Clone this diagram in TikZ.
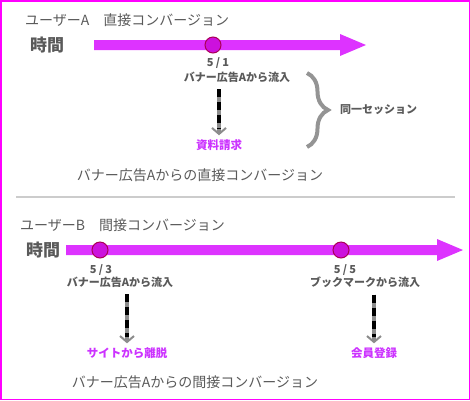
\documentclass[tikz,border=0pt]{standalone}
\usepackage{fontspec}
\setmainfont{Noto Sans CJK JP}
\usetikzlibrary{decorations.pathreplacing,arrows.meta}

\definecolor{lineviolet}{HTML}{DD33FF}
\definecolor{dotviolet}{HTML}{CC11DD}
\definecolor{dotedge}{HTML}{AA0055}
\definecolor{framepink}{HTML}{FF00FF}
\definecolor{textgray}{HTML}{5A5A5A}
\definecolor{resultviolet}{HTML}{CC33FF}

\begin{document}
\begin{tikzpicture}[x=1pt, y=-1pt,
	title/.style={text=textgray, font=\fontsize{14}{16}\selectfont, inner sep=0pt},
	timeword/.style={text=textgray, font=\fontsize{17}{19}\bfseries\selectfont, inner sep=0pt},
	datelabel/.style={text=textgray, font=\fontsize{11}{13}\bfseries\addfontfeature{LetterSpace=20}\selectfont, inner sep=0pt},
	srclabel/.style={text=textgray, font=\fontsize{11}{13}\bfseries\selectfont, inner sep=0pt},
	result/.style={text=resultviolet, font=\fontsize{11.5}{13}\bfseries\selectfont, inner sep=0pt},
	dot/.style={circle, fill=dotviolet, draw=dotedge, line width=1pt, minimum size=16pt, inner sep=0pt},
	flow/.style={line width=4pt, draw=black!45, shorten <=7pt, shorten >=4pt,
		-{Straight Barb[length=6pt, width=14pt, line width=2pt]},
		postaction={draw=black, dash pattern=on 8pt off 5pt, line width=4pt, shorten <=7pt, shorten >=10pt, -}}
	]

	% frame
	\useasboundingbox (0,0) rectangle (470,400);
	\draw[framepink, line width=1.5pt] (0.75,0.75) rectangle (469.25,399.25);

	% user A
	\node[title, anchor=west] (titleA) at (25,20) {ユーザーA　直接コンバージョン};
	\node[timeword, anchor=west] (timeA) at (30,45) {時間};
	\fill[lineviolet] (94,40) -- (340,40) -- (340,34) -- (366,45)
		-- (340,56) -- (340,50) -- (94,50) -- cycle;
	\node[dot] (dotA) at (213,45) {};
	\node[datelabel] (dateA) at (218,63) {5/1};
	\node[srclabel] (srcA) at (237,77) {バナー広告Aから流入};
	\node[result] (resA) at (219,145) {資料請求};
	\draw[flow] (srcA.south -| resA.north) -- (resA.north);

	% session brace
	\draw[draw=black!42, line width=4pt, decorate,
		decoration={brace, amplitude=21pt}] (307,73) -- (307,147);
	\node[srclabel, anchor=west] (sessA) at (340,110) {同一セッション};

	\node[title] (sumA) at (200,175) {バナー広告Aからの直接コンバージョン};

	% separator
	\draw[black!20, line width=2pt] (16,197) -- (455,197);

	% user B
	\node[title, anchor=west] (titleB) at (20,225) {ユーザーB　間接コンバージョン};
	\node[timeword, anchor=west] (timeB) at (26,250) {時間};
	\fill[lineviolet] (66,245) -- (437,245) -- (437,239) -- (463,250)
		-- (437,261) -- (437,255) -- (66,255) -- cycle;
	\node[dot] (dotB) at (100,250) {};
	\node[dot] (dotC) at (341,250) {};

	\node[datelabel] (dateB) at (101,270) {5/3};
	\node[srclabel] (srcB) at (120,282) {バナー広告Aから流入};
	\node[datelabel] (dateC) at (345,270) {5/5};
	\node[srclabel] (srcC) at (365,282) {ブックマークから流入};

	\node[result] (resB) at (127,353) {サイトから離脱};
	\node[result] (resC) at (374,353) {会員登録};
	\draw[flow] (srcB.south -| resB.north) -- (resB.north);
	\draw[flow] (srcC.south -| resC.north) -- (resC.north);

	\node[title] (sumB) at (195,382) {バナー広告Aからの間接コンバージョン};

\end{tikzpicture}
\end{document}
